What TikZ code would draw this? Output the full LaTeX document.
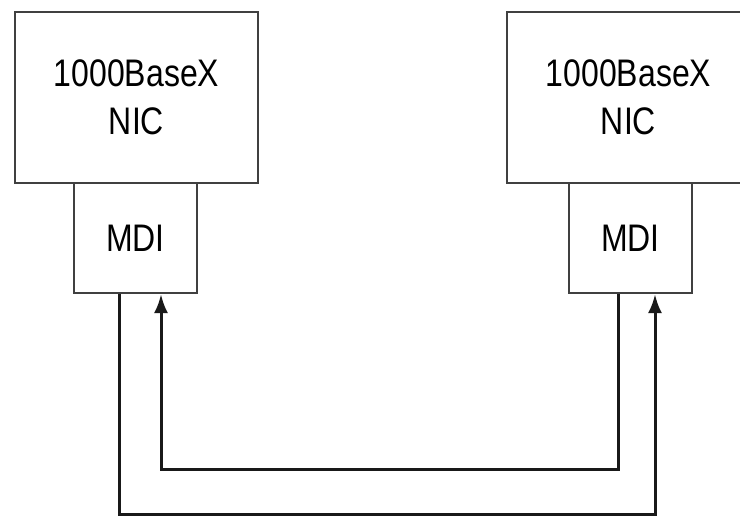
\documentclass[tikz,border=0pt]{standalone}
\usepackage{fontspec}
\setmainfont{Liberation Sans}
\usetikzlibrary{arrows.meta}
\begin{document}
\begin{tikzpicture}[x=1pt,y=-1pt,
  box/.style={draw=black!75, line width=2.2pt, inner sep=0pt, align=center,
    font=\fontsize{32}{48}\selectfont, text=black},
  nicbox/.style={box, minimum width=243pt, minimum height=171pt},
  mdibox/.style={box, minimum width=123pt, minimum height=110pt},
  conn/.style={draw=black!90, line width=3pt},
  arr/.style={conn, -{Latex[length=19pt,width=14pt]}}]
\useasboundingbox (0,0) rectangle (740,518);
\node[nicbox] (lnic) at (136.5,97.5) {\scalebox{1}[1.2]{1000BaseX}\\\scalebox{1}[1.2]{NIC}};
\node[nicbox] (rnic) at (628.5,97.5) {\scalebox{1}[1.2]{1000BaseX}\\\scalebox{1}[1.2]{NIC}};
\node[mdibox] (lmdi) at (135.5,238) {\scalebox{1}[1.2]{MDI}};
\node[mdibox] (rmdi) at (630.5,238) {\scalebox{1}[1.2]{MDI}};
\draw[arr] ([xshift=-16.5pt]lmdi.south) -- ++(0,220) -| ([xshift=24.5pt]rmdi.south);
\draw[arr] ([xshift=-12.5pt]rmdi.south) -- ++(0,175) -| ([xshift=25.5pt]lmdi.south);
\end{tikzpicture}
\end{document}
